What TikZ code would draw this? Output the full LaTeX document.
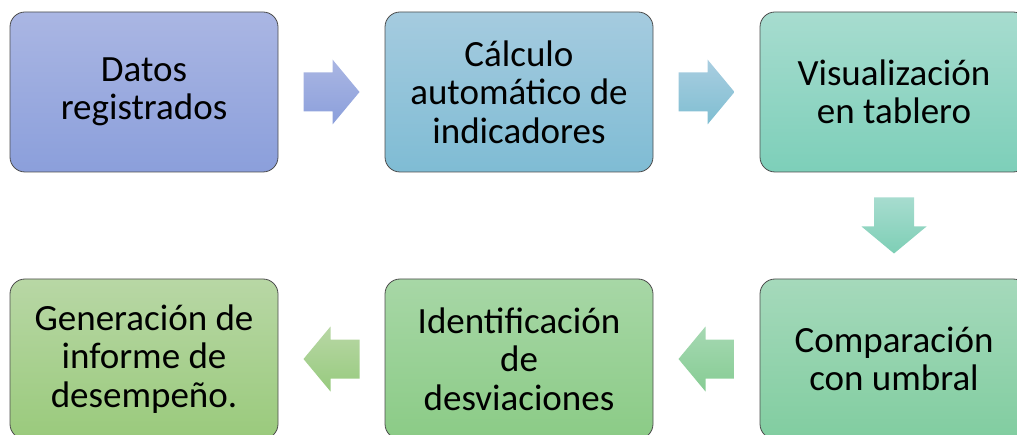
\documentclass[tikz,border=0pt]{standalone}
\usepackage{fontspec}
\setmainfont{Carlito}
\usetikzlibrary{positioning}
\usetikzlibrary{calc}
\definecolor{datosA}{RGB}{170,182,227}
\definecolor{datosB}{RGB}{139,159,219}
\definecolor{calcA}{RGB}{165,203,223}
\definecolor{calcB}{RGB}{127,188,212}
\definecolor{tabA}{RGB}{167,220,207}
\definecolor{tabB}{RGB}{125,207,185}
\definecolor{umbA}{RGB}{165,217,187}
\definecolor{umbB}{RGB}{129,205,160}
\definecolor{desvA}{RGB}{167,215,166}
\definecolor{desvB}{RGB}{139,203,134}
\definecolor{infA}{RGB}{184,215,165}
\definecolor{infB}{RGB}{154,202,124}
\tikzstyle{caja}=[draw=black!70,line width=0.8pt,rounded corners=15pt,
  minimum width=268pt,minimum height=160pt,outer sep=0pt,
  align=center,font=\fontsize{37}{38.5}\selectfont]
\tikzstyle{flecha}=[draw=none]

\begin{document}
\begin{tikzpicture}[x=1pt,y=1pt,node distance=107pt]
  \useasboundingbox (0,0) rectangle (1017,434);
  \clip (0,0) rectangle (1017,434);

  \node[caja,top color=datosA,bottom color=datosB] (datos) at (144,342) {Datos\\registrados};
  \node[caja,top color=calcA,bottom color=calcB,right=of datos] (calculo) {Cálculo\\automático de\\indicadores};
  \node[caja,top color=tabA,bottom color=tabB,right=of calculo] (tablero) {Visualización\\en tablero};
  \node[caja,top color=umbA,bottom color=umbB,below=of tablero] (umbral) {Comparación\\con umbral};
  \node[caja,top color=desvA,bottom color=desvB,left=of umbral] (desviaciones) {Identificación\\de\\desviaciones};
  \node[caja,top color=infA,bottom color=infB,left=of desviaciones] (informe) {Generación de\\informe de\\desempeño.};

  \coordinate (f1) at ($(datos.east)!0.5!(calculo.west)$);
  \coordinate (f2) at ($(calculo.east)!0.5!(tablero.west)$);
  \coordinate (f3) at ($(tablero.south)!0.5!(umbral.north)$);
  \coordinate (f4) at ($(umbral.west)!0.5!(desviaciones.east)$);
  \coordinate (f5) at ($(desviaciones.west)!0.5!(informe.east)$);

  % block arrows
  \shade[flecha,shift={(f1)},top color=datosA,bottom color=datosB]
    (-28,19.5) -- (1,19.5) -- (1,32.5) -- (28,0) -- (1,-32.5) -- (1,-19.5) -- (-28,-19.5) -- cycle;
  \shade[flecha,shift={(f2)},top color=calcA!95!white,bottom color=calcB!90!tabB]
    (-28,19.5) -- (1,19.5) -- (1,32.5) -- (28,0) -- (1,-32.5) -- (1,-19.5) -- (-28,-19.5) -- cycle;
  \shade[flecha,shift={(f3)},top color=tabA,bottom color=tabB!85!umbB]
    (-20,28) -- (20,28) -- (20,-1) -- (32.5,-1) -- (0,-28) -- (-32.5,-1) -- (-20,-1) -- cycle;
  \shade[flecha,shift={(f4)},xscale=-1,top color=umbA!60!desvA,bottom color=umbB!50!desvB]
    (-28,19.5) -- (1,19.5) -- (1,32.5) -- (28,0) -- (1,-32.5) -- (1,-19.5) -- (-28,-19.5) -- cycle;
  \shade[flecha,shift={(f5)},xscale=-1,top color=infA,bottom color=infB!80!desvB]
    (-28,19.5) -- (1,19.5) -- (1,32.5) -- (28,0) -- (1,-32.5) -- (1,-19.5) -- (-28,-19.5) -- cycle;

\end{tikzpicture}
\end{document}
